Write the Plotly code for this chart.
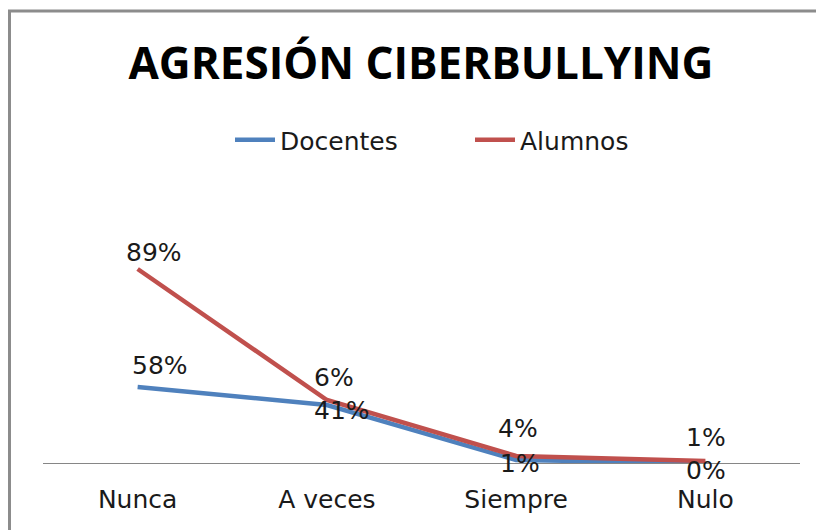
import plotly.graph_objects as go

# Data
categories = ["Nunca", "A veces", "Siempre", "Nulo"]
docentes = [76, 58, 3, 0]
alumnos = [194, 63, 7, 2]
docentes_labels = ["58%", "41%", "1%", "0%"]
alumnos_labels = ["89%", "6%", "4%", "1%"]

BLUE = "#4F81BD"
RED = "#C0504D"
FONT = "DejaVu Sans"

# page body adds an 8px margin, so the figure is drawn 8px in from the window
OFF = 8
W, H = 824 - OFF, 530 - OFF
L, R = 43 - OFF, 24
T = 200 - OFF
B = H - (463 - OFF)
PW, PH = W - L - R, H - T - B


def px_x(px):
    return (px - OFF - L) / PW


def px_y(py):
    return (H - B - (py - OFF)) / PH


fig = go.Figure()

fig.add_trace(go.Scatter(
    x=categories, y=docentes, name="Docentes", mode="lines",
    line=dict(color=BLUE, width=4.5), cliponaxis=False,
))
fig.add_trace(go.Scatter(
    x=categories, y=alumnos, name="Alumnos", mode="lines",
    line=dict(color=RED, width=4.5), cliponaxis=False,
))

# Data labels (offsets in px)
doc_shift = [(22, 22), (15, -5), (4, -3), (1, -7)]
alu_shift = [(16, 17), (7, 23), (2, 28), (1, 24)]
label_font = dict(family=FONT, size=25, color="#1a1a1a")
annotations = []
for cat, val, lab, (dx, dy) in zip(categories, docentes, docentes_labels, doc_shift):
    annotations.append(dict(x=cat, y=val, text=lab, showarrow=False,
                            xshift=dx, yshift=dy, font=label_font))
for cat, val, lab, (dx, dy) in zip(categories, alumnos, alumnos_labels, alu_shift):
    annotations.append(dict(x=cat, y=val, text=lab, showarrow=False,
                            xshift=dx, yshift=dy, font=label_font))

fig.update_layout(
    width=W, height=H,
    margin=dict(l=L, r=R, t=T, b=B),
    paper_bgcolor="white",
    plot_bgcolor="white",
    title=dict(
        text="<b>AGRESIÓN CIBERBULLYING</b>",
        font=dict(family="Open Sans", size=44, color="black"),
        x=(421 - OFF) / W, xanchor="center",
        y=1 - (64 - OFF) / H, yanchor="middle", yref="container",
    ),
    legend=dict(
        orientation="h",
        x=px_x(230), xanchor="left",
        y=px_y(140), yanchor="middle",
        font=label_font,
        itemwidth=40,
        entrywidth=185,
        traceorder="normal",
    ),
    xaxis=dict(
        range=[-0.5, 3.5],
        showline=True, linecolor="#868686", linewidth=1,
        showgrid=False, ticks="", zeroline=False,
        tickfont=label_font,
        ticklabelstandoff=14,
    ),
    yaxis=dict(
        range=[0, PH], visible=False, showgrid=False, zeroline=False,
    ),
    annotations=annotations,
    shapes=[
        dict(type="rect", xref="paper", yref="paper",
             x0=px_x(9.5), x1=px_x(900), y0=px_y(600), y1=px_y(11),
             line=dict(color="#8c8c8c", width=3), fillcolor="rgba(0,0,0,0)"),
    ],
    showlegend=True,
)

fig.write_html("out.html")
